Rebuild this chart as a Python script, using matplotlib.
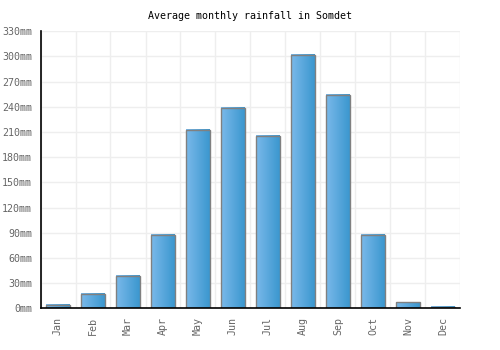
import matplotlib
matplotlib.use("Agg")
import matplotlib.pyplot as plt
import numpy as np
from matplotlib.colors import LinearSegmentedColormap

months = ["Jan", "Feb", "Mar", "Apr", "May", "Jun", "Jul", "Aug", "Sep", "Oct", "Nov", "Dec"]
rainfall = [4, 17, 39, 87, 212, 239, 205, 302, 254, 87, 7, 2]
yticks = list(range(0, 331, 30))
ytick_labels = [f"{v}mm" for v in yticks]
title = "Average monthly rainfall in Somdet"

plt.rcParams['font.family'] = ['DejaVu Sans Mono']

fig = plt.figure(figsize=(5, 3.5), dpi=100)
ax = fig.add_axes([0.081, 0.119, 0.84, 0.792])

x = np.arange(len(months))
bars = ax.bar(x, rainfall, width=0.67, color='none', edgecolor='none', zorder=2)

cmap = LinearSegmentedColormap.from_list("g", ["#7ab9ea", "#3b97cf"])
grad = np.linspace(0, 1, 64).reshape(1, -1)
for b in bars:
    x0, y0, w, h = b.get_x(), b.get_y(), b.get_width(), b.get_height()
    ax.imshow(grad, cmap=cmap, aspect='auto', extent=(x0, x0 + w, y0, y0 + h),
              zorder=2, interpolation='bilinear')

ax.bar(x, rainfall, width=0.67, color='none', edgecolor='#808080', linewidth=1.0, zorder=4)

ax.set_xlim(-0.5, len(months) - 0.5)
ax.set_ylim(0, 330)
ax.set_yticks(yticks)
ax.set_yticklabels(ytick_labels)
ax.set_xticks(x)
ax.set_xticklabels(months, rotation=90)
ax.set_xticks(np.arange(-0.5, len(months), 1), minor=True)

ax.grid(False)
ax.yaxis.grid(True, color='#eeeeee', linewidth=1, zorder=0)
ax.xaxis.grid(True, which='minor', color='#eeeeee', linewidth=1, zorder=0)
ax.set_axisbelow(True)

ax.tick_params(axis='both', which='both', length=0, colors='#666666', labelsize=7.2)
ax.tick_params(axis='y', pad=6)
ax.tick_params(axis='x', pad=6)

for s in ['top', 'right']:
    ax.spines[s].set_visible(False)
ax.spines['left'].set_color('black')
ax.spines['bottom'].set_color('black')
ax.spines['left'].set_linewidth(1.2)
ax.spines['bottom'].set_linewidth(1.2)
ax.spines['left'].set_zorder(5)
ax.spines['bottom'].set_zorder(5)

fig.text(0.5, 1 - 16 / 350, title, ha='center', va='center', fontsize=7.2, color='black')

fig.savefig("out.png", dpi=100)
